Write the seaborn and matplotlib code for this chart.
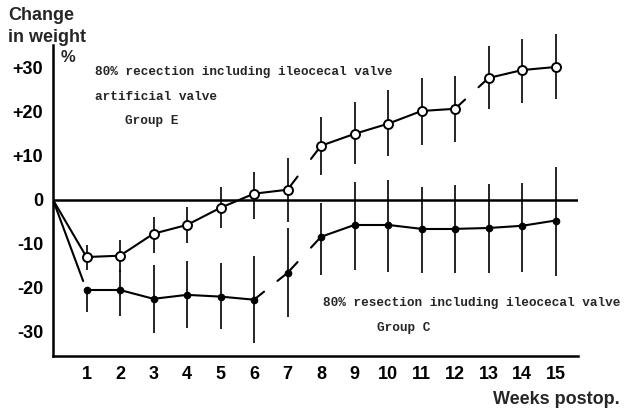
import matplotlib
matplotlib.use("Agg")
import matplotlib.pyplot as plt
import seaborn as sns
import pandas as pd
import numpy as np

# ---------------- data ----------------
weeks = [1, 2, 3, 4, 5, 6, 7, 8, 9, 10, 11, 12, 13, 14, 15]
week_labels = ["1", "2", "3", "4", "5", "6", "7", "8", "9", "10", "11", "12", "13", "14", "15"]
y_ticks = [30, 20, 10, 0, -10, -20, -30]
y_tick_labels = ["+30", "+20", "+10", "0", "-10", "-20", "-30"]

# Group E (open circles)
E_mean = [-13.0, -12.7, -7.7, -5.7, -1.8, 1.4, 2.3, 12.3, 15.0, 17.3, 20.2, 20.7, 27.7, 29.5, 30.2]
E_hi = [-10.2, -9.1, -3.8, -1.7, 3.0, 6.4, 9.5, 18.9, 22.3, 25.0, 27.7, 28.2, 35.0, 36.6, 37.7]
E_lo = [-15.9, -16.4, -12.0, -9.8, -6.4, -4.3, -5.0, 5.7, 8.2, 10.0, 12.5, 13.2, 20.7, 22.0, 23.0]
E_breaks = [(7, 8), (12, 13)]

# Group C (filled circles)
C_mean = [-20.5, -20.5, -22.5, -21.6, -22.0, -22.7, -16.6, -8.4, -5.7, -5.7, -6.6, -6.6, -6.4, -5.9, -4.7]
C_hi = [-20.5, -16.0, -14.8, -14.0, -14.4, -12.7, -6.4, -0.8, 4.0, 4.5, 3.0, 3.4, 3.6, 3.9, 7.5]
C_lo = [-25.4, -26.4, -30.2, -29.1, -29.4, -32.5, -26.6, -17.0, -16.0, -16.4, -16.6, -16.6, -16.6, -16.4, -17.3]
C_breaks = [(6, 7), (7, 8)]

df_E = pd.DataFrame({"week": weeks, "change": E_mean})
df_C = pd.DataFrame({"week": weeks, "change": C_mean})

# ---------------- style ----------------
sns.set_style("white")
plt.rcParams["font.family"] = ["Liberation Sans Narrow", "Liberation Sans", "DejaVu Sans"]

W, H = 624, 412
fig = plt.figure(figsize=(W / 100, H / 100), dpi=100)
ax = fig.add_axes([53 / W, 56 / H, 525 / W, 311 / H])
ax.set_xlim(0, 15.67)
ax.set_ylim(-35.5, 35.2)

LW = 1.5
STUB = 0.3


def draw_series(xs, ys, breaks, end_frac_first=1.0):
    px = [0] + list(xs)
    py = [0.0] + list(ys)
    for i in range(len(px) - 1):
        x0, x1, y0, y1 = px[i], px[i + 1], py[i], py[i + 1]
        if (x0, x1) in breaks:
            ax.plot([x0, x0 + STUB * (x1 - x0)], [y0, y0 + STUB * (y1 - y0)],
                    color="black", lw=LW, zorder=2)
            ax.plot([x1 - STUB * (x1 - x0), x1], [y1 - STUB * (y1 - y0), y1],
                    color="black", lw=LW, zorder=2)
        else:
            f = end_frac_first if i == 0 else 1.0
            ax.plot([x0, x0 + f * (x1 - x0)], [y0, y0 + f * (y1 - y0)],
                    color="black", lw=LW, zorder=2)


draw_series(weeks, E_mean, E_breaks)
draw_series(weeks, C_mean, C_breaks, end_frac_first=0.9)

# error bars
ax.vlines(weeks, E_lo, E_hi, color="black", lw=1.2, zorder=1, clip_on=False)
ax.vlines(weeks, C_lo, C_hi, color="black", lw=1.2, zorder=1, clip_on=False)

# markers
sns.scatterplot(data=df_E, x="week", y="change", ax=ax, s=42, marker="o",
                facecolor="white", edgecolor="black", linewidth=1.4, zorder=4,
                clip_on=False, legend=False)
sns.scatterplot(data=df_C, x="week", y="change", ax=ax, s=22, marker="o",
                color="black", edgecolor="black", linewidth=0.8, zorder=4,
                clip_on=False, legend=False)

# zero line
ax.axhline(0, color="black", lw=1.8, zorder=1)

# axes styling
for s in ["top", "right"]:
    ax.spines[s].set_visible(False)
for s in ["left", "bottom"]:
    ax.spines[s].set_color("black")
    ax.spines[s].set_linewidth(1.8)

ax.set_xticks(weeks)
ax.set_xticklabels(week_labels)
ax.set_yticks(y_ticks)
ax.set_yticklabels(y_tick_labels)
ax.tick_params(axis="both", length=0, labelsize=13, colors="black")
ax.tick_params(axis="x", pad=7)
ax.tick_params(axis="y", pad=7)
for lab in ax.get_xticklabels() + ax.get_yticklabels():
    lab.set_fontweight("bold")
ax.set_xlabel("")
ax.set_ylabel("")


def ftext(px, py, s, **kw):
    fig.text(px / W, 1 - py / H, s, **kw)


# axis titles
ftext(8, 15, "Change", fontsize=13, fontweight="bold", va="center", ha="left")
ftext(8, 38, "in weight", fontsize=13, fontweight="bold", va="center", ha="left")
ftext(61, 58, "%", fontsize=12, fontweight="bold", va="center", ha="left")
ftext(620, 400, "Weeks postop.", fontsize=13, fontweight="bold", va="center", ha="right")

# annotations
mono = ["Liberation Mono", "DejaVu Sans Mono"]
ftext(95, 72, "80% recection including ileocecal valve", fontsize=9.2,
      fontweight="bold", family=mono, va="center", ha="left")
ftext(95, 97, "artificial valve", fontsize=9.2, fontweight="bold", family=mono,
      va="center", ha="left")
ftext(125, 121, "Group E", fontsize=9.2, fontweight="bold", family=mono,
      va="center", ha="left")
ftext(323, 303, "80% resection including ileocecal valve", fontsize=9.2,
      fontweight="bold", family=mono, va="center", ha="left")
ftext(377, 328, "Group C", fontsize=9.2, fontweight="bold", family=mono,
      va="center", ha="left")

fig.savefig("out.png", dpi=100)
